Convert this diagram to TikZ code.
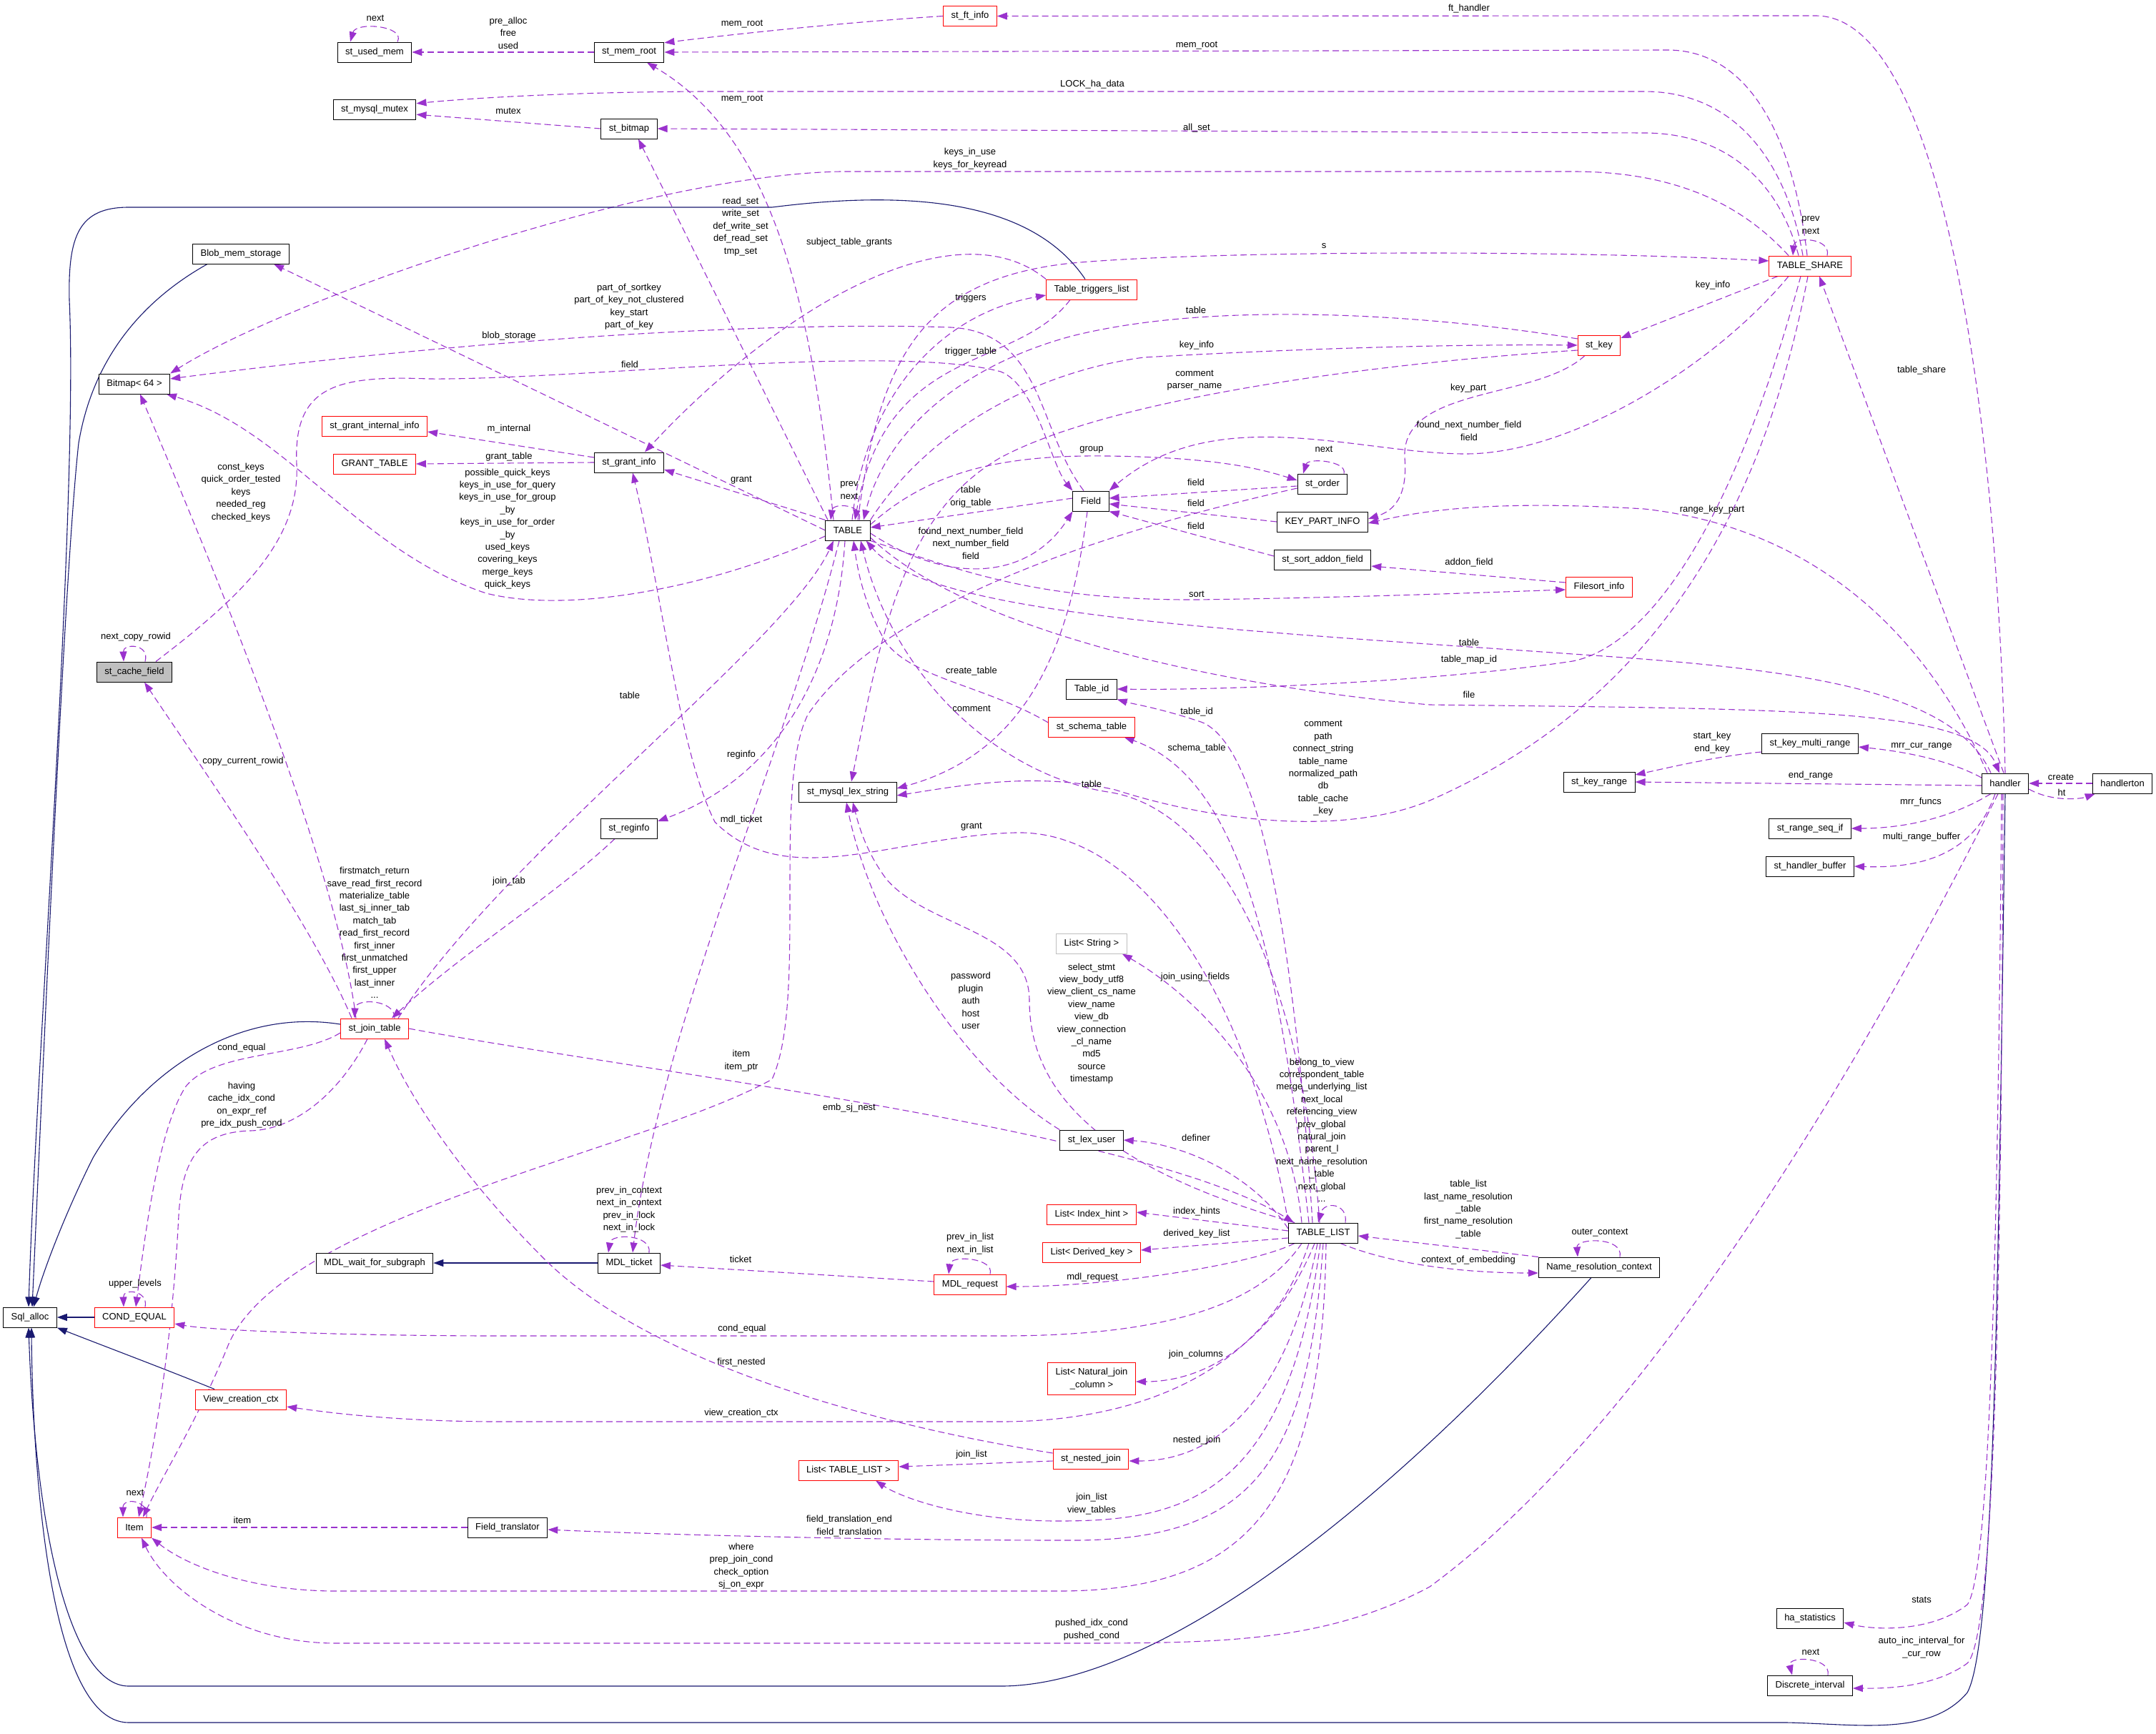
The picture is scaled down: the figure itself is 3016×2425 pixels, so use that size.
\documentclass[tikz,border=0pt]{standalone}
\usepackage{fontspec}
\setmainfont{Liberation Sans}
\usetikzlibrary{arrows.meta}
\definecolor{cdep}{HTML}{9A32CD}
\definecolor{cinh}{HTML}{191970}
\definecolor{cred}{HTML}{FF0000}
\definecolor{cgray}{HTML}{BFBFBF}
\pgfdeclarelayer{bg}
\pgfsetlayers{bg,main}
\begin{document}
\begin{tikzpicture}[x=1pt,y=-1pt,
  every node/.style={font=\fontsize{13}{17.4}\selectfont},
  cls/.style={draw=black,line width=1pt,fill=white,minimum height=28pt,inner xsep=11pt,inner ysep=3pt,align=center},
  redcls/.style={cls,draw=cred},
  graycls/.style={cls,draw=cgray},
  lbl/.style={inner sep=0pt,align=center},
  dep/.style={draw=cdep,line width=1.1pt,dash pattern=on 9pt off 5pt,-{Triangle[length=14pt,width=10pt]}},
  inh/.style={draw=cinh,line width=1.1pt,-{Triangle[length=14pt,width=10pt]}}]
\useasboundingbox (0,0) rectangle (3016,2425);
% ---------- nodes ----------
\node[cls] (usedmem) at (524,73) {st\_used\_mem};
\node[cls] (mutex) at (524,153) {st\_mysql\_mutex};
\node[cls] (memroot) at (880,73) {st\_mem\_root};
\node[cls] (bitmapst) at (880,180) {st\_bitmap};
\node[redcls] (ftinfo) at (1357,22.5) {st\_ft\_info};
\node[cls] (blob) at (337,355) {Blob\_mem\_storage};
\node[cls] (bitmap64) at (188,537) {Bitmap< 64 >};
\node[redcls] (grantint) at (524,596) {st\_grant\_internal\_info};
\node[redcls] (granttable) at (524,649) {GRANT\_TABLE};
\node[cls] (grantinfo) at (880,647) {st\_grant\_info};
\node[cls] (table) at (1186,742) {TABLE};
\node[redcls] (trig) at (1527,405) {Table\_triggers\_list};
\node[redcls] (tshare) at (2532,372) {TABLE\_SHARE};
\node[redcls] (stkey) at (2237,483) {st\_key};
\node[cls] (field) at (1526,701) {Field};
\node[cls] (order) at (1850,677) {st\_order};
\node[cls] (kpi) at (1850,730) {KEY\_PART\_INFO};
\node[cls] (addon) at (1850,783) {st\_sort\_addon\_field};
\node[redcls] (filesort) at (2237,821) {Filesort\_info};
\node[cls,fill=cgray] (cachefield) at (188,940) {st\_cache\_field};
\node[redcls] (jointab) at (524,1439) {st\_join\_table};
\node[cls] (lexstr) at (1186,1108) {st\_mysql\_lex\_string};
\node[cls] (reginfo) at (880,1159) {st\_reginfo};
\node[redcls] (schema) at (1527,1017) {st\_schema\_table};
\node[cls] (tableid) at (1527,964) {Table\_id};
\node[graycls] (liststring) at (1527,1320) {List< String >};
\node[cls] (lexuser) at (1527,1595) {st\_lex\_user};
\node[cls] (keyrange) at (2237,1094) {st\_key\_range};
\node[cls] (keymulti) at (2532,1040) {st\_key\_multi\_range};
\node[cls] (handler) at (2805,1096) {handler};
\node[cls] (handlerton) at (2969,1096) {handlerton};
\node[cls] (rangeseq) at (2532,1159) {st\_range\_seq\_if};
\node[cls] (hbuffer) at (2532,1212) {st\_handler\_buffer};
\node[cls] (sqlalloc) at (42,1843) {Sql\_alloc};
\node[redcls] (condeq) at (188,1843) {COND\_EQUAL};
\node[redcls] (viewctx) at (337,1958) {View\_creation\_ctx};
\node[redcls] (item) at (188,2137) {Item};
\node[cls] (mdlwait) at (524,1767) {MDL\_wait\_for\_subgraph};
\node[cls] (fieldtr) at (710,2137) {Field\_translator};
\node[cls] (mdlticket) at (880,1767) {MDL\_ticket};
\node[redcls] (mdlreq) at (1357,1797) {MDL\_request};
\node[redcls] (listtl) at (1187,2057) {List< TABLE\_LIST >};
\node[redcls] (nested) at (1526,2041) {st\_nested\_join};
\node[redcls] (listhint) at (1527,1699) {List< Index\_hint >};
\node[redcls] (listdk) at (1527,1752) {List< Derived\_key >};
\node[redcls,minimum height=45pt] (listnj) at (1527,1929) {List< Natural\_join\\\_column >};
\node[cls] (tablelist) at (1851,1725) {TABLE\_LIST};
\node[cls] (namectx) at (2237,1773) {Name\_resolution\_context};
\node[cls] (hastats) at (2532,2264) {ha\_statistics};
\node[cls] (discrete) at (2532,2358) {Discrete\_interval};
% ---------- edges ----------
\begin{pgfonlayer}{bg}
\fill[white] (0,0) rectangle (3016,2425);
% top area
\draw[dep] ([xshift=32pt]usedmem.north) .. controls (568,36) and (498,30) .. ([xshift=-34pt]usedmem.north);
\draw[dep] (memroot.west) -- (usedmem.east);
\draw[dep] (ftinfo.west) .. controls (1200,30) and (1050,45) .. (memroot.15);
\draw[dep] ([xshift=-4pt]tshare.north) .. controls (2510,200) and (2450,68) .. (2330,70) -- (memroot.east);
\draw[dep] (handler.north) .. controls (2795,600) and (2720,22) .. (2540,22) -- (ftinfo.east);
\draw[dep] ([xshift=-10pt]tshare.north) .. controls (2500,230) and (2430,128) .. (2300,128) -- (1000,128) .. controls (800,128) and (650,138) .. (mutex.8);
\draw[dep] (bitmapst.west) -- (mutex.-7);
\draw[dep] ([xshift=-16pt]tshare.north) .. controls (2490,260) and (2420,186) .. (2300,186) -- (bitmapst.east);
\draw[dep] ([xshift=-30pt]tshare.north) .. controls (2440,290) and (2350,240) .. (2200,240) -- (1176,240) .. controls (900,245) and (400,420) .. (bitmap64.north east);
\draw[dep] ([xshift=24pt]tshare.north) .. controls (2562,333) and (2510,330) .. ([xshift=-24pt]tshare.north);
% TABLE upward
\draw[dep] ([xshift=-20pt]table.north) .. controls (1135,420) and (1080,190) .. ([xshift=25pt]memroot.south);
\draw[dep] ([xshift=-28pt]table.north) -- ([xshift=13pt]bitmapst.south);
\draw[dep] (table.west) -- ([xshift=46pt]blob.south);
\draw[dep] ([yshift=-8pt]table.west) .. controls (1000,820) and (800,860) .. (680,830) .. controls (500,770) and (400,600) .. ([xshift=45pt]bitmap64.south);
\draw[dep] (table.north west) -- ([yshift=-10pt]grantinfo.east);
\draw[dep] ([xshift=16pt]table.north) .. controls (1208,705) and (1165,703) .. ([xshift=-24pt]table.north);
\draw[dep] ([xshift=6pt]table.north) .. controls (1210,560) and (1310,440) .. ([yshift=-8pt]trig.west);
\draw[dep] ([xshift=-30pt]trig.south) .. controls (1420,520) and (1240,480) .. ([xshift=10pt]table.north);
\draw[dep] (trig.north west) .. controls (1340,290) and (1100,420) .. ([xshift=22pt]grantinfo.north);
\draw[dep] ([xshift=14pt]table.north) .. controls (1230,500) and (1290,390) .. (1500,368) .. controls (1700,350) and (2200,350) .. ([yshift=7pt]tshare.west);
\draw[dep] ([yshift=9pt]stkey.west) .. controls (2000,440) and (1700,420) .. (1500,470) .. controls (1350,510) and (1240,600) .. ([xshift=22pt]table.north);
\draw[dep] (table.north east) .. controls (1300,600) and (1450,520) .. (1600,500) .. controls (1900,483) and (2100,482) .. (stkey.west);
\draw[dep] ([yshift=-7pt]stkey.west) .. controls (1900,510) and (1550,560) .. (1400,640) .. controls (1260,720) and (1230,900) .. ([xshift=5pt]lexstr.north);
% Sql_alloc inheritance
\draw[inh] ([xshift=-9pt]trig.north) .. controls (1450,290) and (1300,262) .. (1080,290) -- (180,290) .. controls (110,290) and (95,330) .. (97,420) .. controls (110,700) and (50,1500) .. ([xshift=-2pt]sqlalloc.north);
\draw[inh] ([xshift=-47pt]blob.south) .. controls (200,420) and (130,500) .. (110,620) .. controls (90,800) and (60,1500) .. ([xshift=3pt]sqlalloc.north);
\draw[inh] ([yshift=6pt]jointab.west) .. controls (330,1410) and (200,1500) .. (130,1620) .. controls (90,1700) and (60,1780) .. ([xshift=5pt]sqlalloc.north);
\draw[inh] (condeq.west) -- (sqlalloc.east);
\draw[inh] ([xshift=-37pt]viewctx.north) .. controls (230,1915) and (150,1885) .. (sqlalloc.south east);
\draw[inh] ([xshift=-11pt]namectx.south) .. controls (1900,2150) and (1600,2359) .. (1400,2359) -- (180,2359) .. controls (100,2359) and (50,2150) .. ([xshift=-2pt]sqlalloc.south);
\draw[inh] (handler.south) .. controls (2795,1800) and (2790,2300) .. (2752,2368) .. controls (2700,2430) and (2600,2412) .. (2500,2410) -- (180,2410) .. controls (60,2410) and (45,2000) .. ([xshift=2pt]sqlalloc.south);
\draw[inh] (mdlticket.west) -- (mdlwait.east);
% Field related
\draw[dep] ([xshift=-10pt]field.north) .. controls (1450,600) and (1460,465) .. (1330,458) .. controls (1100,450) and (700,470) .. (bitmap64.8);
\draw[dep] ([xshift=30pt]cachefield.north) .. controls (330,840) and (420,760) .. (415,650) .. controls (410,540) and (470,525) .. (600,530) .. controls (800,532) and (1250,480) .. (1400,520) .. controls (1450,540) and (1470,650) .. (field.north west);
\draw[dep] ([xshift=15pt]cachefield.north) .. controls (210,900) and (172,900) .. ([xshift=-15pt]cachefield.north);
\draw[dep] ([xshift=-45pt]tshare.south) -- ([yshift=10pt]stkey.east);
\draw[dep] ([xshift=-20pt]stkey.south) .. controls (2150,560) and (1960,540) .. (1965,640) .. controls (1970,700) and (1945,716) .. ([yshift=4pt]kpi.east);
\draw[dep] ([xshift=-30pt]tshare.south) .. controls (2400,510) and (2200,635) .. (2050,635) .. controls (1900,635) and (1700,560) .. (field.north east);
\draw[dep] ([yshift=8pt]table.east) .. controls (1300,660) and (1400,636) .. (1550,638) .. controls (1700,640) and (1760,655) .. ([yshift=5pt]order.west);
\draw[dep] ([yshift=-3pt]order.west) -- ([yshift=4pt]field.east);
\draw[dep] (kpi.west) -- ([yshift=-4pt]field.east);
\draw[dep] ([yshift=5pt]addon.west) -- (field.south east);
\draw[dep] ([xshift=30pt]order.north) .. controls (1885,645) and (1830,640) .. ([xshift=-27pt]order.north);
\draw[dep] ([yshift=6pt]filesort.west) -- ([yshift=-9pt]addon.east);
\draw[dep] (table.south east) .. controls (1350,800) and (1450,840) .. (1674,839) .. controls (1900,836) and (2100,828) .. ([yshift=-4pt]filesort.west);
\draw[dep] ([yshift=4pt]field.west) -- ([yshift=4pt]table.east);
\draw[dep] ([yshift=-4pt]table.east) .. controls (1330,820) and (1440,810) .. (field.south west);
\draw[dep] ([xshift=-5pt]field.south) .. controls (1500,880) and (1450,1050) .. ([yshift=5pt]lexstr.east);
\draw[dep] ([yshift=-6pt]order.west) .. controls (1650,720) and (1250,820) .. (1130,1000) .. controls (1080,1100) and (1130,1400) .. (1080,1510) .. controls (900,1610) and (400,1700) .. (320,1880) .. controls (280,1980) and (230,2060) .. ([xshift=12pt]item.north);
% grant info
\draw[dep] ([yshift=7pt]grantinfo.west) -- ([yshift=-8pt]grantint.east);
\draw[dep] (grantinfo.west) -- (granttable.east);
% handler / TABLE / TABLE_SHARE
\draw[dep] ([xshift=-20pt]handler.north) .. controls (2730,960) and (2500,935) .. (2200,915) .. controls (1700,880) and (1300,860) .. ([xshift=-6pt]table.south east);
\draw[dep] ([yshift=-10pt]table.east) .. controls (1350,880) and (1700,960) .. (2000,986) .. controls (2500,992) and (2760,990) .. ([xshift=-8pt]handler.north);
\draw[dep] ([xshift=-2pt]handler.north) -- ([xshift=13pt]tshare.south);
\draw[dep] ([xshift=-25pt]handler.north) .. controls (2700,900) and (2550,740) .. (2300,712) .. controls (2100,700) and (2000,712) .. ([yshift=-2pt]kpi.east);
\draw[dep] ([xshift=-13pt]tshare.south) .. controls (2420,750) and (2300,905) .. (2200,925) .. controls (2000,955) and (1700,966) .. (tableid.east);
\draw[dep] ([xshift=-3pt]tshare.south) .. controls (2450,800) and (2250,1010) .. (2000,1120) .. controls (1880,1170) and (1700,1150) .. (1560,1105) .. controls (1450,1080) and (1350,1098) .. ([yshift=-5pt]lexstr.east);
\draw[dep] ([yshift=6pt]schema.west) .. controls (1380,960) and (1280,950) .. (1240,900) .. controls (1210,850) and (1200,800) .. ([xshift=8pt]table.south);
% st_join_table
\draw[dep] ([xshift=33pt]jointab.north) .. controls (700,1200) and (1100,900) .. ([xshift=-20pt]table.south);
\draw[dep] ([xshift=-20pt]reginfo.south) .. controls (780,1250) and (650,1330) .. ([xshift=24pt]jointab.north);
\draw[dep] ([xshift=-4pt]table.south) .. controls (1170,950) and (1080,1090) .. ([yshift=10pt]reginfo.east);
\draw[dep] ([xshift=-12pt]table.south) .. controls (1100,1050) and (920,1450) .. ([xshift=5pt]mdlticket.north);
\draw[dep] ([xshift=28pt]jointab.north) .. controls (553,1398) and (497,1396) .. ([xshift=-28pt]jointab.north);
\draw[dep] ([xshift=-32pt]jointab.north) .. controls (440,1300) and (300,1100) .. ([xshift=14pt]cachefield.south);
\draw[dep] ([xshift=-26pt]jointab.north) .. controls (470,1200) and (280,750) .. ([xshift=8pt]bitmap64.south);
\draw[dep] ([yshift=-6pt]jointab.west) .. controls (420,1480) and (300,1470) .. (260,1520) .. controls (220,1580) and (200,1750) .. ([xshift=2pt]condeq.north);
\draw[dep] ([xshift=-10pt]jointab.south) .. controls (480,1520) and (420,1580) .. (350,1582) .. controls (280,1584) and (255,1620) .. (250,1700) .. controls (240,1900) and (210,2050) .. ([xshift=6pt]item.north);
\draw[dep] (jointab.east) .. controls (900,1500) and (1600,1580) .. ([xshift=8pt]tablelist.north west);
\draw[dep] ([yshift=8pt]nested.west) .. controls (1200,1990) and (900,1900) .. (760,1760) .. controls (660,1660) and (580,1550) .. ([xshift=14pt]jointab.south);
% COND_EQUAL / Item loops
\draw[dep] ([xshift=15pt]condeq.north) .. controls (208,1805) and (172,1802) .. ([xshift=-15pt]condeq.north);
\draw[dep] ([xshift=17pt]item.north) .. controls (208,2098) and (172,2095) .. ([xshift=-16pt]item.north);
% TABLE_LIST
\draw[dep] (tablelist.north west) .. controls (1750,1400) and (1600,1160) .. (1420,1165) .. controls (1250,1170) and (1100,1250) .. (1000,1150) .. controls (950,1050) and (930,850) .. ([xshift=5pt]grantinfo.south);
\draw[dep] ([xshift=-15pt]tablelist.north) .. controls (1810,1300) and (1760,1040) .. (1680,1010) .. controls (1620,990) and (1585,985) .. (tableid.south east);
\draw[dep] ([xshift=-20pt]tablelist.north) .. controls (1790,1350) and (1740,1090) .. ([xshift=-15pt]schema.south east);
\draw[dep] ([xshift=-5pt]tablelist.north) .. controls (1820,1350) and (1700,1130) .. (1550,1108) .. controls (1400,1085) and (1250,950) .. ([xshift=18pt]table.south);
\draw[dep] ([xshift=-40pt]tablelist.north) .. controls (1600,1650) and (1440,1560) .. (1440,1400) .. controls (1440,1300) and (1300,1300) .. (1240,1230) .. controls (1210,1190) and (1200,1150) .. ([xshift=7pt]lexstr.south);
\draw[dep] (lexuser.north west) .. controls (1350,1500) and (1220,1300) .. ([xshift=-2pt]lexstr.south);
\draw[dep] ([yshift=6pt]tablelist.west) .. controls (1750,1640) and (1650,1600) .. (lexuser.east);
\draw[dep] ([xshift=-30pt]tablelist.north) .. controls (1800,1500) and (1650,1380) .. ([xshift=-7pt]liststring.south east);
\draw[dep] ([xshift=31pt]tablelist.north) .. controls (1886,1683) and (1852,1680) .. ([xshift=-7pt]tablelist.north);
\draw[dep] ([yshift=3pt]tablelist.west) -- ([yshift=3pt]listhint.east);
\draw[dep] ([yshift=-7pt]tablelist.west) -- ([yshift=3pt]listdk.east);
\draw[dep] ([xshift=-40pt]tablelist.south) .. controls (1750,1770) and (1550,1800) .. ([yshift=-3pt]mdlreq.east);
\draw[dep] ([yshift=4pt]mdlreq.west) -- ([yshift=-3pt]mdlticket.east);
\draw[dep] ([xshift=28pt]mdlreq.north) .. controls (1392,1760) and (1330,1755) .. ([xshift=-30pt]mdlreq.north);
\draw[dep] ([xshift=28pt]mdlticket.north) .. controls (912,1727) and (855,1725) .. ([xshift=-29pt]mdlticket.north);
\draw[dep] ([xshift=-30pt]tablelist.south) .. controls (1760,1830) and (1620,1869) .. (1400,1869) -- (700,1869) .. controls (500,1869) and (300,1862) .. ([yshift=-9pt]condeq.east);
\draw[dep] ([xshift=-20pt]tablelist.south) .. controls (1780,1900) and (1620,1989) .. (1400,1989) -- (700,1989) .. controls (550,1989) and (450,1975) .. ([yshift=-10pt]viewctx.east);
\draw[dep] ([xshift=-12pt]tablelist.south) .. controls (1790,1860) and (1700,1933) .. ([yshift=-4pt]listnj.east);
\draw[dep] ([xshift=-8pt]tablelist.south) .. controls (1800,1960) and (1700,2044) .. ([yshift=-3pt]nested.east);
\draw[dep] ([yshift=-3pt]nested.west) -- ([yshift=5pt]listtl.east);
\draw[dep] ([xshift=-4pt]tablelist.south) .. controls (1800,2100) and (1650,2128) .. (1480,2128) .. controls (1350,2128) and (1260,2095) .. ([xshift=38pt]listtl.south);
\draw[dep] (tablelist.south) .. controls (1830,2050) and (1750,2155) .. (1500,2155) .. controls (1200,2155) and (900,2146) .. ([yshift=-3pt]fieldtr.east);
\draw[dep] (fieldtr.west) -- (item.east);
\draw[dep] ([xshift=4pt]tablelist.south) .. controls (1850,2100) and (1750,2226) .. (1480,2226) -- (470,2226) .. controls (350,2226) and (260,2190) .. (item.south east);
\draw[dep] ([xshift=-10pt]handler.south) .. controls (2600,1500) and (2300,2000) .. (2000,2220) .. controls (1850,2300) and (1700,2299) .. (1480,2299) -- (470,2299) .. controls (330,2299) and (230,2220) .. ([xshift=10pt]item.south);
\draw[dep] (namectx.north west) -- ([yshift=-4pt]tablelist.east);
\draw[dep] ([xshift=-25pt]tablelist.south east) .. controls (1950,1770) and (2050,1781) .. ([yshift=-8pt]namectx.west);
\draw[dep] ([xshift=29pt]namectx.north) .. controls (2272,1730) and (2205,1732) .. ([xshift=-30pt]namectx.north);
% handler right cluster
\draw[dep] ([yshift=8pt]handler.west) .. controls (2720,1060) and (2650,1050) .. ([yshift=-5pt]keymulti.east);
\draw[dep] ([yshift=-12pt]keymulti.west) .. controls (2400,1058) and (2330,1075) .. ([yshift=10pt]keyrange.east);
\draw[dep] ([yshift=-3pt]handler.west) -- (keyrange.east);
\draw[dep] ([xshift=-20pt]handler.south) .. controls (2720,1150) and (2650,1159) .. (rangeseq.east);
\draw[dep] ([xshift=-14pt]handler.south) .. controls (2760,1200) and (2680,1215) .. (hbuffer.east);
\draw[dep] ([xshift=-5pt]handler.south) .. controls (2795,1700) and (2785,2200) .. (2752,2245) .. controls (2700,2285) and (2620,2280) .. ([yshift=-6pt]hastats.east);
\draw[dep] ([xshift=-3pt]handler.south) .. controls (2800,1800) and (2790,2290) .. (2752,2327) .. controls (2700,2365) and (2620,2362) .. ([yshift=-4pt]discrete.east);
\draw[dep] ([xshift=25pt]discrete.north) .. controls (2562,2318) and (2500,2316) .. ([xshift=-25pt]discrete.north);
\draw[dep] ([yshift=-8pt]handler.east) .. controls (2870,1122) and (2910,1118) .. ([xshift=4pt]handlerton.south west);
\draw[dep] (handlerton.west) -- (handler.east);
\end{pgfonlayer}
% ---------- labels ----------
\node[lbl] (l1) at (525,25) {next};
\node[lbl] (l2) at (711,46) {pre\_alloc\\free\\used};
\node[lbl] (l3) at (1038,34) {mem\_root};
\node[lbl] (l4) at (1674,64) {mem\_root};
\node[lbl] (l5) at (2055,12) {ft\_handler};
\node[lbl] (l6) at (1528,118) {LOCK\_ha\_data};
\node[lbl] (l7) at (711,155) {mutex};
\node[lbl] (l8) at (1674,179) {all\_set};
\node[lbl] (l9) at (1357,222) {keys\_in\_use\\keys\_for\_keyread};
\node[lbl] (l10) at (1038,139) {mem\_root};
\node[lbl] (l11) at (1036,317) {read\_set\\write\_set\\def\_write\_set\\def\_read\_set\\tmp\_set};
\node[lbl] (l12) at (712,470) {blob\_storage};
\node[lbl] (l13) at (880,429) {part\_of\_sortkey\\part\_of\_key\_not\_clustered\\key\_start\\part\_of\_key};
\node[lbl] (l14) at (881,510) {field};
\node[lbl] (l15) at (1188,339) {subject\_table\_grants};
\node[lbl] (l16) at (1358,417) {triggers};
\node[lbl] (l17) at (1358,492) {trigger\_table};
\node[lbl] (l18) at (1852,344) {s};
\node[lbl] (l19) at (1673,434) {table};
\node[lbl] (l20) at (1674,483) {key\_info};
\node[lbl] (l21) at (1671,532) {comment\\parser\_name};
\node[lbl] (l22) at (2396,399) {key\_info};
\node[lbl] (l23) at (2533,315) {prev\\next};
\node[lbl] (l24) at (2688,518) {table\_share};
\node[lbl] (l25) at (2054,543) {key\_part};
\node[lbl] (l26) at (2055,603) {found\_next\_number\_field\\field};
\node[lbl] (l27) at (1527,629) {group};
\node[lbl] (l28) at (1852,628) {next};
\node[lbl] (l29) at (1673,675) {field};
\node[lbl] (l30) at (1673,704) {field};
\node[lbl] (l31) at (1673,736) {field};
\node[lbl] (l32) at (2055,787) {addon\_field};
\node[lbl] (l33) at (1674,831) {sort};
\node[lbl] (l34) at (1358,695) {table\\orig\_table};
\node[lbl] (l35) at (1358,760) {found\_next\_number\_field\\next\_number\_field\\field};
\node[lbl] (l36) at (1188,686) {prev\\next};
\node[lbl] (l37) at (1037,672) {grant};
\node[lbl] (l38) at (712,600) {m\_internal};
\node[lbl] (l39) at (712,639) {grant\_table};
\node[lbl] (l40) at (710,740) {possible\_quick\_keys\\keys\_in\_use\_for\_query\\keys\_in\_use\_for\_group\\\_by\\keys\_in\_use\_for\_order\\\_by\\used\_keys\\covering\_keys\\merge\_keys\\quick\_keys};
\node[lbl] (l41) at (337,689) {const\_keys\\quick\_order\_tested\\keys\\needed\_reg\\checked\_keys};
\node[lbl] (l42) at (190,891) {next\_copy\_rowid};
\node[lbl] (l43) at (340,1065) {copy\_current\_rowid};
\node[lbl] (l44) at (524,1305) {firstmatch\_return\\save\_read\_first\_record\\materialize\_table\\last\_sj\_inner\_tab\\match\_tab\\read\_first\_record\\first\_inner\\first\_unmatched\\first\_upper\\last\_inner\\...};
\node[lbl] (l45) at (712,1233) {join\_tab};
\node[lbl] (l46) at (881,973) {table};
\node[lbl] (l47) at (1037,1056) {reginfo};
\node[lbl] (l48) at (1037,1147) {mdl\_ticket};
\node[lbl] (l49) at (1359,939) {create\_table};
\node[lbl] (l50) at (1359,991) {comment};
\node[lbl] (l51) at (1359,1157) {grant};
\node[lbl] (l52) at (1527,1097) {table};
\node[lbl] (l53) at (1674,996) {table\_id};
\node[lbl] (l54) at (1674,1047) {schema\_table};
\node[lbl] (l55) at (2055,899) {table};
\node[lbl] (l55b) at (2055,923) {table\_map\_id};
\node[lbl] (l55c) at (2055,972) {file};
\node[lbl] (l56) at (1851,1075) {comment\\path\\connect\_string\\table\_name\\normalized\_path\\db\\table\_cache\\\_key};
\node[lbl] (l57) at (2395,713) {range\_key\_part};
\node[lbl] (l58) at (2395,1039) {start\_key\\end\_key};
\node[lbl] (l59) at (2688,1044) {mrr\_cur\_range};
\node[lbl] (l60) at (2533,1085) {end\_range};
\node[lbl] (l61) at (2883,1087) {create};
\node[lbl] (l62) at (2884,1109) {ht};
\node[lbl] (l63) at (2687,1122) {mrr\_funcs};
\node[lbl] (l64) at (2688,1171) {multi\_range\_buffer};
\node[lbl] (l65) at (1358,1400) {password\\plugin\\auth\\host\\user};
\node[lbl] (l66) at (1527,1432) {select\_stmt\\view\_body\_utf8\\view\_client\_cs\_name\\view\_name\\view\_db\\view\_connection\\\_cl\_name\\md5\\source\\timestamp};
\node[lbl] (l67) at (1672,1367) {join\_using\_fields};
\node[lbl] (l68) at (1849,1581) {belong\_to\_view\\correspondent\_table\\merge\_underlying\_list\\next\_local\\referencing\_view\\prev\_global\\natural\_join\\parent\_l\\next\_name\_resolution\\\_table\\next\_global\\...};
\node[lbl] (l69) at (1673,1592) {definer};
\node[lbl] (l70) at (1037,1484) {item\\item\_ptr};
\node[lbl] (l71) at (1188,1550) {emb\_sj\_nest};
\node[lbl] (l72) at (338,1466) {cond\_equal};
\node[lbl] (l73) at (338,1546) {having\\cache\_idx\_cond\\on\_expr\_ref\\pre\_idx\_push\_cond};
\node[lbl] (l74) at (189,1796) {upper\_levels};
\node[lbl] (l75) at (880,1692) {prev\_in\_context\\next\_in\_context\\prev\_in\_lock\\next\_in\_lock};
\node[lbl] (l76) at (1357,1740) {prev\_in\_list\\next\_in\_list};
\node[lbl] (l77) at (1036,1762) {ticket};
\node[lbl] (l78) at (1674,1695) {index\_hints};
\node[lbl] (l79) at (1674,1726) {derived\_key\_list};
\node[lbl] (l80) at (1528,1787) {mdl\_request};
\node[lbl] (l81) at (2054,1692) {table\_list\\last\_name\_resolution\\\_table\\first\_name\_resolution\\\_table};
\node[lbl] (l82) at (2054,1763) {context\_of\_embedding};
\node[lbl] (l83) at (2238,1725) {outer\_context};
\node[lbl] (l84) at (1038,1859) {cond\_equal};
\node[lbl] (l85) at (1037,1906) {first\_nested};
\node[lbl] (l86) at (1673,1895) {join\_columns};
\node[lbl] (l87) at (1037,1977) {view\_creation\_ctx};
\node[lbl] (l88) at (1674,2015) {nested\_join};
\node[lbl] (l89) at (1359,2035) {join\_list};
\node[lbl] (l90) at (1527,2104) {join\_list\\view\_tables};
\node[lbl] (l91) at (1188,2135) {field\_translation\_end\\field\_translation};
\node[lbl] (l92) at (339,2127) {item};
\node[lbl] (l93) at (189,2088) {next};
\node[lbl] (l94) at (1037,2191) {where\\prep\_join\_cond\\check\_option\\sj\_on\_expr};
\node[lbl] (l95) at (1527,2280) {pushed\_idx\_cond\\pushed\_cond};
\node[lbl] (l96) at (2688,2238) {stats};
\node[lbl] (l97) at (2688,2305) {auto\_inc\_interval\_for\\\_cur\_row};
\node[lbl] (l98) at (2533,2311) {next};
\end{tikzpicture}
\end{document}
